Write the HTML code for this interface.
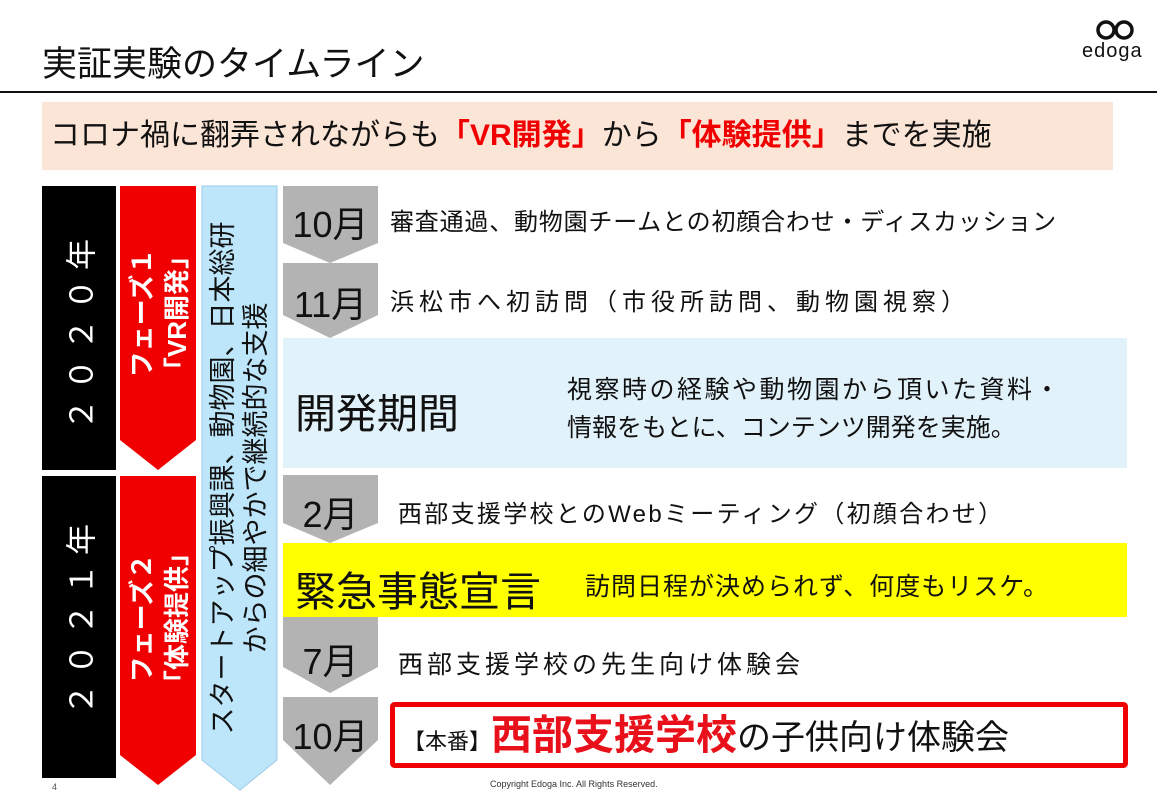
<!DOCTYPE html>
<html><head><meta charset="utf-8"><style>
body{margin:0;width:1157px;height:800px;background:#fff;position:relative;overflow:hidden;font-family:"Liberation Sans","Noto Sans CJK JP",sans-serif;color:#111}
.a{position:absolute;white-space:nowrap}
.rot{position:absolute;transform:translate(-50%,-50%) rotate(-90deg);white-space:nowrap;text-align:center}
.m{position:absolute;width:95px;text-align:center;font-size:36px;left:283px}
</style></head><body>
<svg width="1157" height="800" style="position:absolute;left:0;top:0">
<line x1="0" y1="92" x2="1157" y2="92" stroke="#111" stroke-width="2"/>
<rect x="42" y="102" width="1071" height="68" fill="#fbe5d6"/>
<rect x="42" y="186" width="74" height="284" fill="#000"/>
<rect x="42" y="476" width="74" height="302" fill="#000"/>
<polygon points="120,186 196,186 196,440 158,470 120,440" fill="#f00000"/>
<polygon points="120,476 196,476 196,755 158,785 120,755" fill="#f00000"/>
<polygon points="202,186 277,186 277,760 240,790 202,760" fill="#bde6fb" stroke="#9cc9e6" stroke-width="1"/>
<polygon points="283,186 378,186 378,243 330,263 283,243" fill="#b3b3b3"/>
<polygon points="283,263 378,263 378,315 330,338 283,315" fill="#b3b3b3"/>
<rect x="283" y="338" width="844" height="130" fill="#e2f2fb"/>
<polygon points="283,475 378,475 378,523 330,543 283,523" fill="#b3b3b3"/>
<rect x="283" y="543" width="844" height="74" fill="#ffff00"/>
<polygon points="283,617 378,617 378,667 330,693 283,667" fill="#b3b3b3"/>
<polygon points="283,697 378,697 378,740 330,785 283,740" fill="#b3b3b3"/>
<rect x="392.5" y="704.5" width="733" height="61" fill="#fff" stroke="#f00000" stroke-width="5" rx="2"/>
<circle cx="1106" cy="30" r="8" fill="none" stroke="#111" stroke-width="3.5"/>
<circle cx="1124" cy="30" r="8" fill="none" stroke="#111" stroke-width="3.5"/>
</svg>
<div class="a" style="left:42px;top:36px;font-size:35px">実証実験のタイムライン</div>
<div class="a" style="left:1082px;top:40px;font-size:20px;letter-spacing:1px">edoga</div>
<div class="a" style="left:50px;top:114px;font-size:30px;line-height:44px">コロナ禍に翻弄されながらも<b style="color:#f00000">「VR開発」</b>から<b style="color:#f00000">「体験提供」</b>までを実施</div>

<div class="rot" style="left:79px;top:330px;color:#fff;font-size:31px;letter-spacing:9px">２０２０年</div>
<div class="rot" style="left:79px;top:615px;color:#fff;font-size:31px;letter-spacing:9px">２０２１年</div>
<div class="rot" style="left:160px;top:313px;color:#fff;font-size:26px;font-weight:bold;line-height:35px">フェーズ１<br>「VR開発」</div>
<div class="rot" style="left:160px;top:618px;color:#fff;font-size:26px;font-weight:bold;line-height:35px">フェーズ２<br>「体験提供」</div>
<div class="rot" style="left:240px;top:478px;font-size:27px;line-height:33px">スタートアップ振興課、動物園、日本総研<br>からの細やかで継続的な支援</div>

<div class="m" style="top:196px">10月</div>
<div class="a" style="left:390px;top:202px;font-size:24px;letter-spacing:0.8px">審査通過、動物園チームとの初顔合わせ・ディスカッション</div>
<div class="m" style="top:276px">11月</div>
<div class="a" style="left:390px;top:282px;font-size:24px;letter-spacing:5px">浜松市へ初訪問（市役所訪問、動物園視察）</div>
<div class="a" style="left:295px;top:380px;font-size:41px">開発期間</div>
<div class="a" style="left:567px;top:371px;font-size:25px;line-height:38px"><span style="letter-spacing:2.5px">視察時の経験や動物園から頂いた資料・</span><br>情報をもとに、コンテンツ開発を実施。</div>
<div class="m" style="top:486px">2月</div>
<div class="a" style="left:398px;top:494px;font-size:24px;letter-spacing:2.3px">西部支援学校とのWebミーティング（初顔合わせ）</div>
<div class="a" style="left:295px;top:558px;font-size:41px">緊急事態宣言</div>
<div class="a" style="left:585px;top:567px;font-size:25px;letter-spacing:1px">訪問日程が決められず、何度もリスケ。</div>
<div class="m" style="top:633px">7月</div>
<div class="a" style="left:398px;top:645px;font-size:25px;letter-spacing:4px">西部支援学校の先生向け体験会</div>
<div class="m" style="top:708px">10月</div>
<div class="a" style="left:403px;top:712px;font-size:34px;line-height:46px"><span style="font-size:22px">【本番】</span><b style="color:#e8101a;font-size:41px">西部支援学校</b>の子供向け体験会</div>
<div class="a" style="left:52px;top:782px;font-size:9px;color:#555">4</div>
<div class="a" style="left:490px;top:779px;font-size:9px;color:#333">Copyright Edoga Inc. All Rights Reserved.</div>
</body></html>
